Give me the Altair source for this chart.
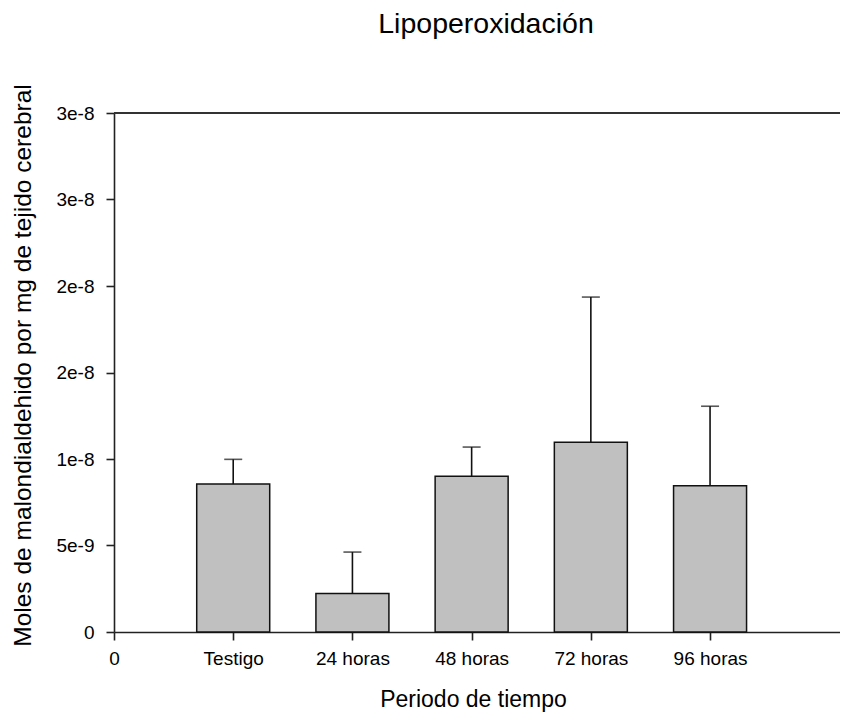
import altair as alt
import pandas as pd

categories = ["Testigo", "24 horas", "48 horas", "72 horas", "96 horas"]
positions = [1, 2, 3, 4, 5]
means = [8.55e-9, 2.22e-9, 9.0e-9, 10.97e-9, 8.46e-9]
upper = [9.98e-9, 4.62e-9, 10.69e-9, 19.36e-9, 13.05e-9]

x_tick_values = [0, 1, 2, 3, 4, 5]
x_tick_labels = ["0"] + categories
y_tick_values = [0, 5e-9, 1e-8, 1.5e-8, 2e-8, 2.5e-8, 3e-8]
y_tick_labels = ["0", "5e-9", "1e-8", "2e-8", "2e-8", "3e-8", "3e-8"]

df = pd.DataFrame({"cat": categories, "pos": positions, "mean": means, "upper": upper})

FONT = "Liberation Sans"
AXC = "#222222"
W = 726
H = 519

x_label_expr = "[" + ",".join('"%s"' % s for s in x_tick_labels) + "][round(datum.value)]"
y_label_expr = "[" + ",".join('"%s"' % s for s in y_tick_labels) + "][round(datum.value/5e-9)]"

xscale = alt.Scale(domain=[0, 6.09], nice=False, zero=False, padding=0)
yscale = alt.Scale(domain=[0, 3e-8], nice=False)

x_axis = alt.Axis(values=x_tick_values, labelExpr=x_label_expr, title="Periodo de tiempo",
                  grid=False, labelFontSize=19, titleFontSize=23, labelFont=FONT, titleFont=FONT,
                  titleFontWeight="normal", labelColor="black", titleColor="black",
                  domainColor=AXC, domainWidth=1.6, tickColor=AXC, tickWidth=1.6, tickSize=8,
                  labelPadding=9, titlePadding=20, titleX=359, labelFlush=False)
y_axis = alt.Axis(values=y_tick_values, labelExpr=y_label_expr,
                  title="Moles de malondialdehido por mg de tejido cerebral",
                  grid=False, labelFontSize=19, titleFontSize=24.5, labelFont=FONT, titleFont=FONT,
                  titleFontWeight="normal", labelColor="black", titleColor="black",
                  domainColor=AXC, domainWidth=1.6, tickColor=AXC, tickWidth=1.6, tickSize=8,
                  labelPadding=12, titlePadding=20, titleY=252, labelFlush=False)

base = alt.Chart(df)

bars = base.mark_bar(size=73, color="#c0c0c0", stroke="#111111", strokeWidth=1.5).encode(
    x=alt.X("pos:Q", scale=xscale, axis=x_axis),
    y=alt.Y("mean:Q", scale=yscale, axis=y_axis),
    y2=alt.Y2(datum=0),
)

err = base.mark_rule(color="#111111", strokeWidth=1.6).encode(
    x=alt.X("pos:Q", scale=xscale),
    y=alt.Y("mean:Q", scale=yscale),
    y2="upper:Q",
)

caps = base.mark_tick(orient="horizontal", size=18, thickness=1.6, color="#111111").encode(
    x=alt.X("pos:Q", scale=xscale),
    y=alt.Y("upper:Q", scale=yscale),
)

top_line = alt.Chart(pd.DataFrame({"top": [3e-8]})).mark_rule(color="#333333", strokeWidth=2).encode(
    y=alt.Y("top:Q", scale=yscale),
    x=alt.value(0),
    x2=alt.value(W),
)

chart = alt.layer(bars, err, caps, top_line).properties(
    width=W,
    height=H,
    title=alt.TitleParams("Lipoperoxidación", font=FONT, fontSize=28.5, fontWeight="normal",
                          color="black", anchor="middle", frame="group", offset=45, dx=9),
    autosize=alt.AutoSizeParams(type="none"),
    padding={"left": 106, "top": 105, "right": 0, "bottom": 81},
).configure_view(stroke=None).configure(background="white")

chart.save("out.html", embed_options={"renderer": "svg", "actions": False})
